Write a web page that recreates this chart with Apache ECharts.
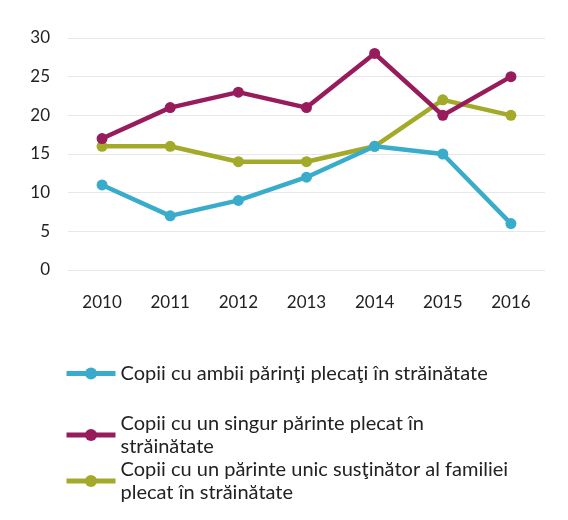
<!DOCTYPE html>
<html>
<head>
    <meta charset="utf-8">
    <title>Copii cu părinţi plecaţi în străinătate</title>
    <script src="https://cdn.jsdelivr.net/npm/echarts@6/dist/echarts.min.js"></script>
    <style>
        html, body { margin: 0; padding: 0; background: #fff; }
        #chart1 { width: 568px; height: 520px; }
    </style>
</head>
<body>
    <div id="chart1"></div>
    <script type="text/javascript">
        // date
        var years = ['2010', '2011', '2012', '2013', '2014', '2015', '2016'];
        var ambiiParinti = [11, 7, 9, 12, 16, 15, 6];
        var singurParinte = [17, 21, 23, 21, 28, 20, 25];
        var parinteUnic = [16, 16, 14, 14, 16, 22, 20];
        var names = [
            'Copii cu ambii părinţi plecaţi în străinătate',
            'Copii cu un singur părinte plecat în\nstrăinătate',
            'Copii cu un părinte unic susţinător al familiei\nplecat în străinătate'
        ];
        var colors = ['#3aaccb', '#981c5c', '#a3aa2a'];

        var myChart = echarts.init(document.getElementById('chart1'));

        var legendText = {
            fontFamily: 'Lato',
            fontSize: 20,
            color: '#222',
            lineHeight: 23
        };
        function legendAt(name, top) {
            return {
                orient: 'vertical',
                left: 64,
                top: top,
                padding: 0,
                data: [name],
                itemWidth: 49,
                itemHeight: 15,
                itemGap: 2,
                lineStyle: { width: 5 },
                textStyle: legendText
            };
        }

        var series = [ambiiParinti, singurParinte, parinteUnic].map(function (d, i) {
            return {
                name: names[i],
                type: 'line',
                data: d,
                symbol: 'circle',
                symbolSize: 11,
                lineStyle: { width: 4.5, color: colors[i] },
                itemStyle: { color: colors[i] },
                z: 3 - i
            };
        });

        var option = {
            animation: false,
            color: colors,
            grid: { left: 68, right: 23, top: 38, bottom: 250 },
            legend: [
                legendAt(names[0], 362),
                legendAt(names[1], 412),
                legendAt(names[2], 458)
            ],
            xAxis: {
                type: 'category',
                data: years,
                axisLine: { show: false },
                axisTick: { show: false },
                axisLabel: { fontFamily: 'Lato', fontSize: 17, color: '#222', margin: 24 }
            },
            yAxis: {
                type: 'value',
                min: 0,
                max: 30,
                interval: 5,
                axisLine: { show: false },
                axisTick: { show: false },
                axisLabel: { fontFamily: 'Lato', fontSize: 17, color: '#222', margin: 18 },
                splitLine: { lineStyle: { color: '#e6e8ec', width: 1 } }
            },
            series: series
        };
        myChart.setOption(option);
    </script>
</body>
</html>
